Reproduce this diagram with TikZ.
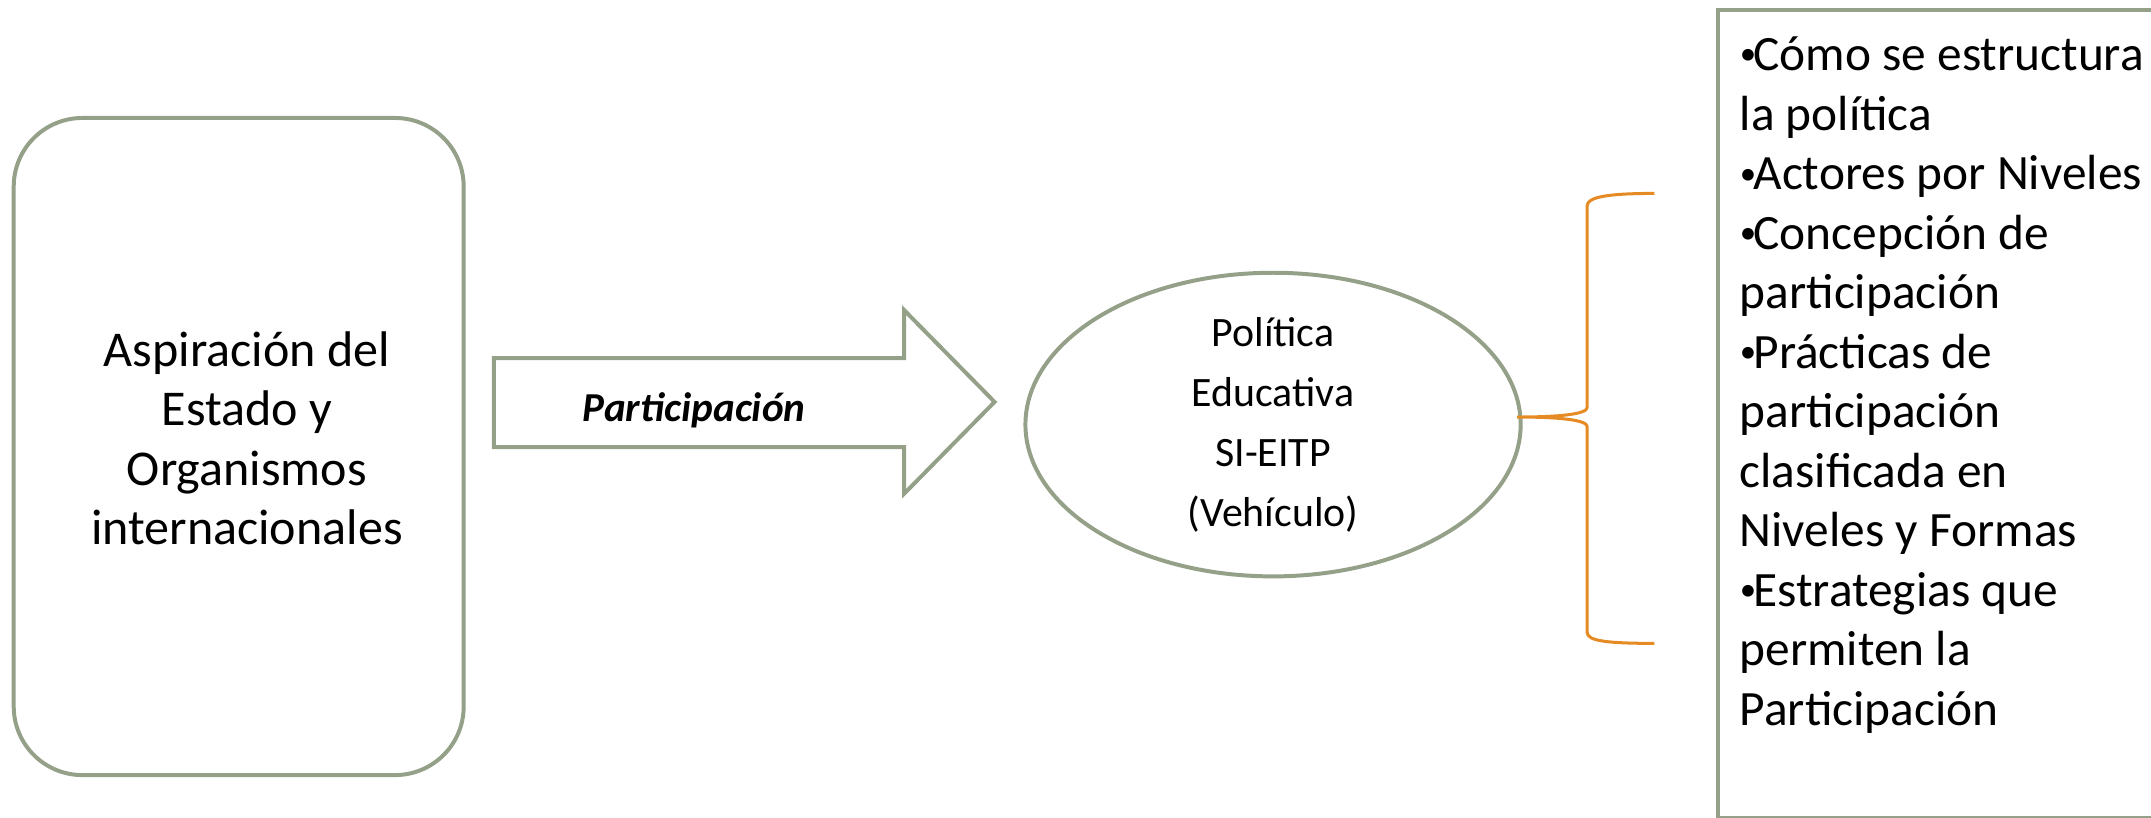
\documentclass[tikz,border=0pt]{standalone}
\usepackage{fontspec}
\setmainfont{Carlito}
\usetikzlibrary{shapes.geometric}
\definecolor{salvia}{RGB}{148,161,136}
\definecolor{naranja}{RGB}{230,138,36}
\newcommand{\vin}{\makebox[10pt][l]{\raisebox{4pt}{\fontsize{24}{24}\selectfont •}}}

\begin{document}
\begin{tikzpicture}[x=1pt,y=-1pt]
\tikzstyle{redon} = [rectangle,rounded corners=50pt,draw=salvia,line width=2.9pt,minimum width=328pt,minimum height=479pt]
\tikzstyle{rtexto} = [align=center,font=\fontsize{36.5}{43.3}\selectfont]
\tikzstyle{oval} = [ellipse,draw=salvia,line width=2.9pt,minimum width=361pt,minimum height=207pt,inner sep=0pt,align=center,font=\fontsize{30.5}{43.7}\selectfont]
\tikzstyle{caja} = [rectangle,draw=salvia,line width=2.9pt,anchor=north west,minimum width=380pt,minimum height=588.5pt]
\tikzstyle{lista} = [anchor=north west,inner sep=0pt,align=left,font=\fontsize{36}{43.4}\selectfont]
\tikzstyle{flecha} = [draw=salvia,line width=2.9pt,line join=miter]
\tikzstyle{llave} = [draw=naranja,line width=2.2pt]

\useasboundingbox (0,0) rectangle (1568,595.6);

\node[redon](aspira) at (174,325.5) [label={[rtexto,xshift=6pt,yshift=6pt]center:Aspiración del\\Estado y\\Organismos\\internacionales}] {};
\node[oval](politica) at (928,309.5) {Política\\Educativa\\SI-EITP\\(Vehículo)};
\node[caja](marco) at (1251,6) {};
\node[lista](temas) at (1268,20.8) {\strut\vin Cómo se estructura\\la política\\\vin Actores por Niveles\\\vin Concepción de\\participación\\\vin Prácticas de\\participación\\clasificada en\\Niveles y Formas\\\vin Estrategias que\\permiten la\\Participación};

% flecha de bloque
\draw[flecha] (360,261) -- (659,261) -- (659,226) -- (725,293) -- (659,360) -- (659,326) -- (360,326) -- cycle;
\node[font=\fontsize{30}{36}\selectfont](part) at (506,299) {\textbf{\textit{Participación}}};

% llave
\coordinate (btip) at (1106,304);
\coordinate (btop) at (1206,141);
\coordinate (bbot) at (1206,469);
\draw[llave] (btop) .. controls +(-36,0) and +(0,-6) .. (1157,150) -- (1157,297) .. controls +(0,5) and +(30,0) .. (btip) .. controls +(30,0) and +(0,-5) .. (1157,311) -- (1157,461) .. controls +(0,6) and +(-36,0) .. (bbot);

\end{tikzpicture}
\end{document}
